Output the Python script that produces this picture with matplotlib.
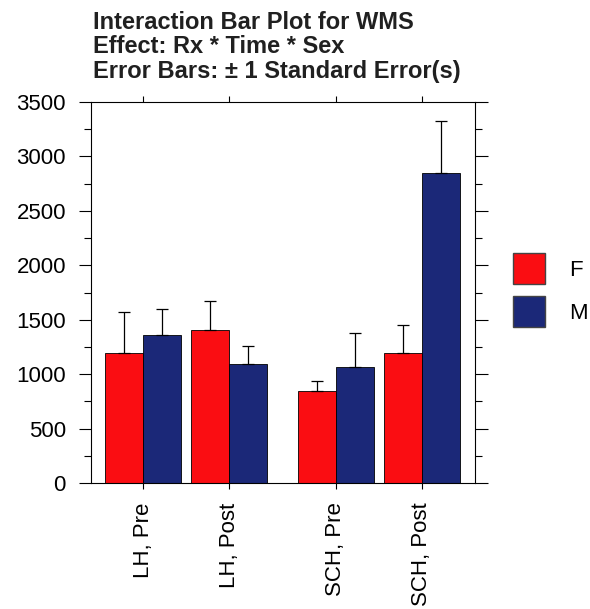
import numpy as np
import matplotlib.pyplot as plt
from matplotlib.patches import Patch

plt.rcParams['font.family'] = ['Liberation Sans', 'DejaVu Sans']

groups = ['LH, Pre', 'LH, Post', 'SCH, Pre', 'SCH, Post']
f_means = [1190, 1405, 845, 1190]
f_se = [385, 270, 95, 260]
m_means = [1360, 1090, 1070, 2845]
m_se = [240, 170, 310, 485]

red = '#fa0d12'
navy = '#1b2878'

fig = plt.figure(figsize=(5.9, 6.09), dpi=100)
ax = fig.add_axes([0.1542, 0.2069, 0.6508, 0.6256])

x = np.array([0, 1, 2.24, 3.24])
w = 0.44
ax.bar(x - w / 2, f_means, w, color=red, edgecolor='black', linewidth=0.6)
ax.bar(x + w / 2, m_means, w, color=navy, edgecolor='black', linewidth=0.6)
ax.errorbar(x - w / 2, f_means, yerr=[np.zeros(4), f_se], fmt='none',
            ecolor='black', elinewidth=0.9, capsize=4, capthick=0.9)
ax.errorbar(x + w / 2, m_means, yerr=[np.zeros(4), m_se], fmt='none',
            ecolor='black', elinewidth=0.9, capsize=4, capthick=0.9)

ax.set_xlim(-0.608, 3.857)
ax.set_ylim(0, 3500)
ax.set_yticks(np.arange(0, 3501, 500))
ax.set_yticks(np.arange(250, 3500, 500), minor=True)
ax.set_xticks(x)
ax.set_xticklabels(groups, rotation=90, fontsize=16)
ax.tick_params(axis='y', which='major', direction='out', length=9,
               width=0.8, labelsize=16, right=True, pad=9)
ax.tick_params(axis='y', which='minor', direction='out', length=4.7,
               width=0.8, right=True)
ax.tick_params(axis='x', direction='out', length=4, width=0.8,
               top=True, pad=10)
for s in ax.spines.values():
    s.set_linewidth(0.8)

fig.text(0.157, 0.982, 'Interaction Bar Plot for WMS\nEffect: Rx * Time * Sex\n'
         'Error Bars: \u00b1 1 Standard Error(s)', fontsize=17, fontweight='bold',
         va='top', ha='left', linespacing=1.08, color='#202020')

handles = [Patch(facecolor=red, edgecolor='#444444', label='F'),
           Patch(facecolor=navy, edgecolor='#444444', label='M')]
fig.legend(handles=handles, loc='center left', bbox_to_anchor=(0.835, 0.524),
           frameon=False, fontsize=16, handlelength=1.45, handleheight=1.75,
           handletextpad=1.1, labelspacing=0.55)

fig.savefig('out.png', dpi=100)
